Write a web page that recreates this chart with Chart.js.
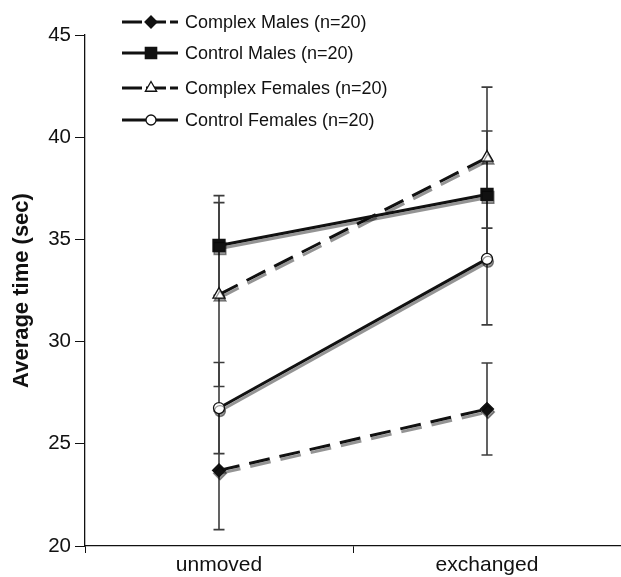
<!DOCTYPE html>
<html>
<head>
<meta charset="utf-8">
<script src="https://cdn.jsdelivr.net/npm/chart.js@4"></script>
<style>
html,body{margin:0;padding:0;background:#fff;}
#wrap{width:621px;height:577px;position:relative;}
</style>
</head>
<body>
<div id="wrap"><canvas id="c" width="621" height="577"></canvas></div>
<script>
const categories = ['unmoved', 'exchanged'];
const seriesNames = ['Complex Males (n=20)', 'Control Males (n=20)', 'Complex Females (n=20)', 'Control Females (n=20)'];
const complexMales = [23.7, 26.7];
const complexMalesErr = [2.9, 2.25];
const controlMales = [34.7, 37.2];
const controlMalesErr = [2.44, 3.1];
const complexFemales = [32.3, 39.0];
const complexFemalesErr = [4.5, 3.45];
const controlFemales = [26.75, 34.05];
const controlFemalesErr = [2.23, 3.23];
const yTicks = [20, 25, 30, 35, 40, 45];

const FONT = 'Liberation Sans, Arial, Helvetica, sans-serif';
const dash = [21, 10];

const datasets = [
  {label: seriesNames[0], data: complexMales, err: complexMalesErr, borderDash: dash,
   pointStyle: 'rectRot', pointRadius: 6.5, pointBackgroundColor: '#111'},
  {label: seriesNames[1], data: controlMales, err: controlMalesErr, borderDash: [],
   pointStyle: 'rect', pointRadius: 8.5, pointBackgroundColor: '#111'},
  {label: seriesNames[2], data: complexFemales, err: complexFemalesErr, borderDash: dash,
   pointStyle: 'triangle', pointRadius: 7, pointBackgroundColor: '#fff'},
  {label: seriesNames[3], data: controlFemales, err: controlFemalesErr, borderDash: [],
   pointStyle: 'circle', pointRadius: 5.5, pointBackgroundColor: '#fff'}
].map(d => Object.assign({
  borderColor: '#111', borderWidth: 3, tension: 0,
  pointBorderColor: '#111', pointBorderWidth: 1.3, pointHoverRadius: 7
}, d));

const errorBars = {
  id: 'errorBars',
  beforeDatasetsDraw(chart) {
    const ctx = chart.ctx, xs = chart.scales.x, ys = chart.scales.y;
    ctx.save();
    ctx.strokeStyle = '#3c3c3c';
    ctx.lineWidth = 1.6;
    chart.data.datasets.forEach(ds => {
      ds.data.forEach((v, i) => {
        const x = Math.round(xs.getPixelForValue(i));
        const yt = ys.getPixelForValue(v + ds.err[i]);
        const yb = ys.getPixelForValue(v - ds.err[i]);
        ctx.beginPath();
        ctx.moveTo(x, yt); ctx.lineTo(x, yb);
        ctx.moveTo(x - 5.5, yt); ctx.lineTo(x + 5.5, yt);
        ctx.moveTo(x - 5.5, yb); ctx.lineTo(x + 5.5, yb);
        ctx.stroke();
      });
    });
    ctx.restore();
  }
};

const shadow = {
  id: 'shadow',
  beforeDatasetDraw(chart) {
    const ctx = chart.ctx;
    ctx.save();
    ctx.shadowColor = 'rgba(0,0,0,0.42)';
    ctx.shadowOffsetX = 1;
    ctx.shadowOffsetY = 3;
    ctx.shadowBlur = 0;
  },
  afterDatasetDraw(chart) {
    chart.ctx.restore();
  }
};

const customLegend = {
  id: 'customLegend',
  afterDraw(chart) {
    const ctx = chart.ctx;
    const rows = [22, 53, 88, 120];
    ctx.save();
    chart.data.datasets.forEach((ds, i) => {
      const y = rows[i];
      ctx.strokeStyle = '#111';
      ctx.lineWidth = 3;
      ctx.setLineDash(ds.borderDash.length ? [20, 4] : []);
      ctx.beginPath();
      ctx.moveTo(122, y); ctx.lineTo(178, y);
      ctx.stroke();
      ctx.setLineDash([]);
      ctx.fillStyle = ds.pointBackgroundColor;
      ctx.strokeStyle = '#111';
      ctx.lineWidth = 1.3;
      Chart.helpers.drawPoint(ctx, {pointStyle: ds.pointStyle, radius: ds.pointRadius - 0.5, rotation: 0, borderWidth: 1.3}, 151, y);
      ctx.fillStyle = '#111';
      ctx.font = '18px ' + FONT;
      ctx.textBaseline = 'middle';
      ctx.textAlign = 'left';
      ctx.fillText(ds.label, 185, y + 1);
    });
    ctx.restore();
  }
};

new Chart(document.getElementById('c'), {
  type: 'line',
  data: {labels: categories, datasets},
  plugins: [errorBars, shadow, customLegend],
  options: {
    responsive: false,
    animation: false,
    layout: {autoPadding: false, padding: {top: 35, right: 0, left: 0, bottom: 0}},
    plugins: {legend: {display: false}, tooltip: {enabled: false}},
    scales: {
      x: {
        type: 'category',
        offset: true,
        grid: {offset: true, drawOnChartArea: false, drawTicks: true, tickLength: 7, color: '#111', lineWidth: 1},
        border: {color: '#111', width: 1.3},
        ticks: {color: '#111', font: {family: FONT, size: 21}, padding: 0},
        afterFit(s) { s.height = 31; }
      },
      y: {
        min: 20, max: 45,
        afterBuildTicks(s) { s.ticks = yTicks.map(v => ({value: v})); },
        grid: {drawOnChartArea: false, drawTicks: true, tickLength: 10, color: '#111', lineWidth: 1},
        border: {color: '#111', width: 1.3},
        ticks: {color: '#111', font: {family: FONT, size: 20.5}, padding: 4},
        title: {display: true, text: 'Average time (sec)', color: '#111',
                font: {family: FONT, size: 22, weight: 'bold'}, padding: {top: 9, bottom: 0}},
        afterFit(s) { s.width = 85; }
      }
    }
  }
});
</script>
</body>
</html>
